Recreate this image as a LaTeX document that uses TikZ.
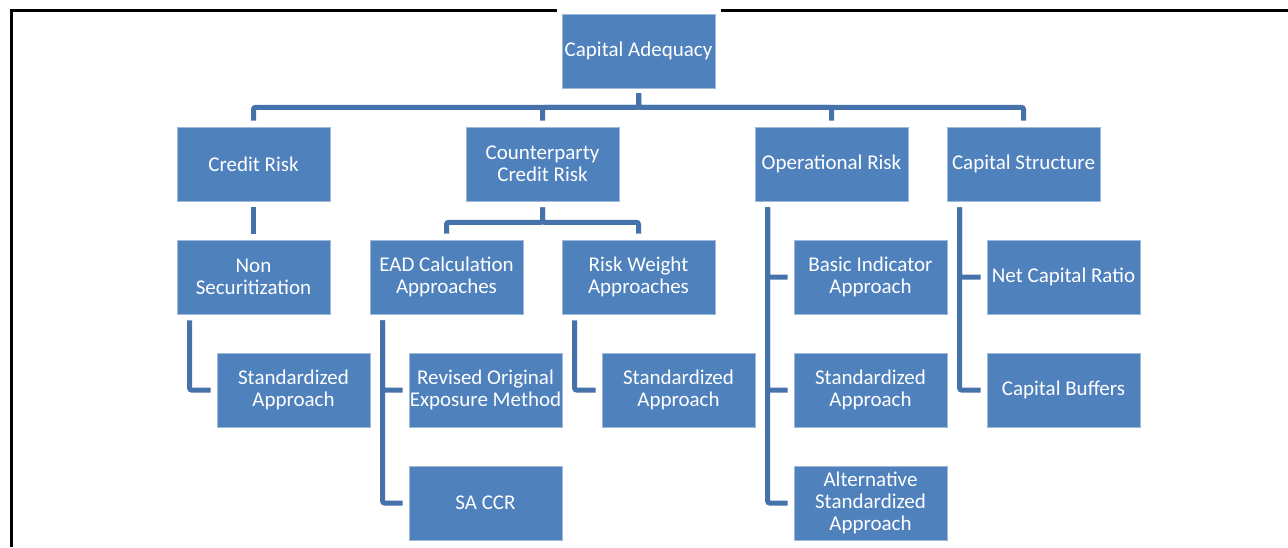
\documentclass[tikz,border=0pt]{standalone}
\usepackage{fontspec}
\setmainfont{Carlito}
\definecolor{boxblue}{HTML}{4F81BD}
\definecolor{lineblue}{HTML}{4572AA}
\begin{document}
\begin{tikzpicture}[x=1pt,y=-1pt,
  box/.style={rectangle, fill=boxblue, draw=white!45!boxblue, line width=0.8pt,
    minimum width=153pt, minimum height=74pt, inner sep=0pt, align=center,
    text=white, font=\fontsize{21}{22}\selectfont},
  conn/.style={draw=lineblue, line width=5pt, rounded corners=2pt, line cap=butt}]
\useasboundingbox (0,0) rectangle (1288,547);
% frame
\draw[line width=3pt, line join=miter] (11.5,547) -- (11.5,10.5) -- (557,10.5);
\draw[line width=3pt] (720.5,10.5) -- (1288,10.5);
% nodes
\node[box] (CA) at (638.5,51) {Capital Adequacy};
\node[box] (CR) at (253.5,164) {Credit Risk};
\node[box] (CCR) at (542.5,164) {Counterparty\\Credit Risk};
\node[box] (OR) at (831.5,164) {Operational Risk};
\node[box] (CS) at (1023.5,164) {Capital Structure};
\node[box] (NS) at (253.5,277) {Non\\Securitization};
\node[box] (EAD) at (446.5,277) {EAD Calculation\\Approaches};
\node[box] (RW) at (638.5,277) {Risk Weight\\Approaches};
\node[box] (BIA) at (870.5,277) {Basic Indicator\\Approach};
\node[box] (NCR) at (1063.5,277) {Net Capital Ratio};
\node[box] (SA1) at (293.5,390) {Standardized\\Approach};
\node[box] (ROEM) at (485.5,390) {Revised Original\\Exposure Method};
\node[box] (SA2) at (678.5,390) {Standardized\\Approach};
\node[box] (SA3) at (870.5,390) {Standardized\\Approach};
\node[box] (CB) at (1063.5,390) {Capital Buffers};
\node[box] (SACCR) at (485.5,503) {SA CCR};
\node[box] (ASA) at (870.5,503) {Alternative\\Standardized\\Approach};
% root connectors
\foreach \c in {CR,CCR,OR,CS}
  \draw[conn] ([yshift=-5pt]CA.south) -- ++(0,14) -| ([yshift=6pt]\c.north);
% credit risk
\draw[conn] ([yshift=-6pt]CR.south) -- ([yshift=6pt]NS.north);
% counterparty
\foreach \c in {EAD,RW}
  \draw[conn] ([yshift=-6pt]CCR.south) -- ++(0,15) -| ([yshift=6pt]\c.north);
% side branches
\draw[conn] ([xshift=13pt,yshift=-6pt]NS.south west) |- ([xshift=-6pt]SA1.west);
\draw[conn] ([xshift=13pt,yshift=-6pt]EAD.south west) |- ([xshift=-6pt]ROEM.west);
\draw[conn] ([xshift=13pt,yshift=-6pt]EAD.south west) |- ([xshift=-6pt]SACCR.west);
\draw[conn] ([xshift=13pt,yshift=-6pt]RW.south west) |- ([xshift=-6pt]SA2.west);
\draw[conn] ([xshift=13pt,yshift=-6pt]OR.south west) |- ([xshift=-6pt]BIA.west);
\draw[conn] ([xshift=13pt,yshift=-6pt]OR.south west) |- ([xshift=-6pt]SA3.west);
\draw[conn] ([xshift=13pt,yshift=-6pt]OR.south west) |- ([xshift=-6pt]ASA.west);
\draw[conn] ([xshift=13pt,yshift=-6pt]CS.south west) |- ([xshift=-6pt]NCR.west);
\draw[conn] ([xshift=13pt,yshift=-6pt]CS.south west) |- ([xshift=-6pt]CB.west);
\end{tikzpicture}
\end{document}
